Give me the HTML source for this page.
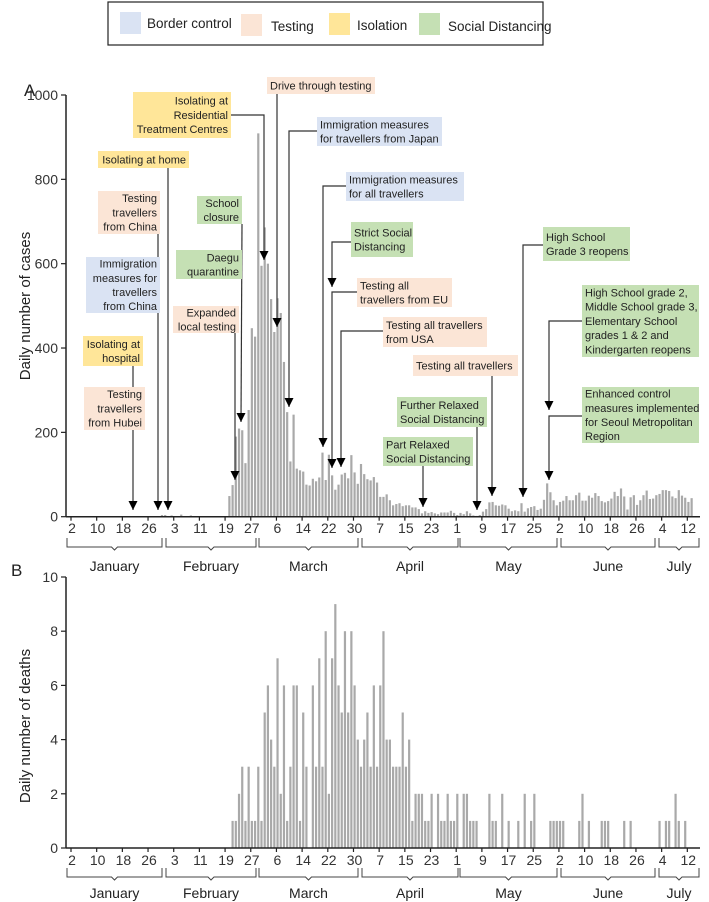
<!DOCTYPE html>
<html><head><meta charset="utf-8">
<style>
html,body{margin:0;padding:0;background:#fff;}
svg{display:block;font-family:"Liberation Sans",sans-serif;}
.ann{font-size:11px;fill:#222;}
.tick{font-size:14px;fill:#333;}
</style></head>
<body>
<svg id="chart" width="709" height="902" viewBox="0 0 709 902" xmlns="http://www.w3.org/2000/svg">
  <g>
    <rect x="108" y="2" width="435" height="43" fill="#fff" stroke="#222" stroke-width="1.2"/>
    <rect x="120" y="12" width="21" height="22" fill="#dae3f3"/>
    <text x="147" y="28" font-size="13.5" fill="#222">Border control</text>
    <rect x="241" y="14" width="21" height="22" fill="#fbe5d6"/>
    <text x="271" y="31" font-size="13.5" fill="#222">Testing</text>
    <rect x="329" y="13" width="21" height="22" fill="#ffe699"/>
    <text x="357" y="30" font-size="13.5" fill="#222">Isolation</text>
    <rect x="419" y="13" width="21" height="22" fill="#c5e0b4"/>
    <text x="448" y="31" font-size="13.5" fill="#222">Social Distancing</text>
  </g>
  <text x="24" y="96" font-size="17" fill="#222">A</text>
  <text x="11" y="576" font-size="17" fill="#222">B</text>
  <text transform="translate(30,306) rotate(-90)" text-anchor="middle" font-size="15" fill="#222">Daily number of cases</text>
  <text transform="translate(30,726) rotate(-90)" text-anchor="middle" font-size="15" fill="#222">Daily number of deaths</text>
  <g id="gA"></g>
  <g id="gB"></g>
  <g id="gAnn"></g>
</svg>
<script>
// ---- data ----
const xTickDays = [2,10,18,26,34,42,50,58,66,74,82,90,98,106,114,122,130,138,146,154,162,170,178,186,194];
const xTickLabels = ["2","10","18","26","3","11","19","27","6","14","22","30","7","15","23","1","9","17","25","2","10","18","26","4","12"];
const monthNames = ["January","February","March","April","May","June","July"];
const casesStartDay = 20;
const casesValues = [1,0,0,0,1,0,1,1,0,0,4,4,1,3,0,1,5,1,1,3,0,1,0,0,0,0,0,1,0,1,0,
  49,75,190,209,205,127,253,447,427,909,
  595,686,600,516,438,518,483,367,248,131,242,114,110,107,76,74,90,84,93,152,87,147,98,64,76,100,104,91,146,105,78,125,
  101,89,86,94,81,47,47,53,39,27,30,32,25,27,27,22,22,18,8,13,9,11,8,6,10,10,10,14,9,4,
  9,6,13,8,3,2,4,12,18,34,35,27,26,29,27,19,13,15,13,32,12,20,23,25,16,19,40,79,58,39,27,
  35,38,49,39,39,51,57,38,38,50,45,56,49,37,34,37,43,59,49,67,48,17,46,51,28,39,51,62,42,43,
  51,54,63,63,61,48,44,63,50,45,35,44];
const casesTicks = [0,200,400,600,800,1000];
const deathsStartDay = 52;
const deathsValues = [1,1,2,3,1,3,1,1,3,1,5,6,4,3,7,2,6,1,3,6,6,1,5,3,0,6,3,7,3,8,2,7,9,6,5,8,5,8,6,4,3,4,5,3,6,3,6,8,4,4,3,3,3,5,3,4,1,2,2,2,1,1,2,
  0,
  2,1,1,2,1,1,2,0, 2,2,1,1,1,0,0,0, 2,1,1,0,2,0,1,0, 0,1,0,2,0,1,2,0, 0,0,0,1,1,1,1,1,
  0,0,0,0,1,2,0,1, 0,0,0,1,1,1,0,0, 0,0,1,0,1,0,0,0, 0,0,0,0,0,1,0,1, 1,0,2,1,0,1,0];
const deathsTicks = [0,2,4,6,8,10];

// ---- layout / scales ----
const NS = "http://www.w3.org/2000/svg";
const xAxisLeft = 66, xAxisRight = 700;
function xDay(d){ return 71 + (d-2)*3.21; }
function yCases(v){ return 516.7 - v*0.4217; }
function yDeaths(v){ return 848 - v*27.1; }
function mk(tag, attrs, parent){ const e=document.createElementNS(NS,tag); for(const k in attrs) e.setAttribute(k,attrs[k]); parent.appendChild(e); return e; }

const brackets = [[67,162],[166,256],[259,358],[362,458],[460,557],[561,655],[659,699]];

function drawPanel(g, startDay, vals, yScale, ticks, base, top, tickY, brY, monY, prefix){
  vals.forEach((v,i)=>{
    if(v<=0) return;
    const d = startDay+i;
    const r = mk('rect',{x:xDay(d).toFixed(2), y:yScale(v).toFixed(2), width:2.2, height:(base-yScale(v)).toFixed(2), fill:'#a9a9a9'}, g);
    
    
  });
  const ya = mk('line',{x1:xAxisLeft,y1:top,x2:xAxisLeft,y2:base,stroke:'#222','stroke-width':1.5},g);
  
  
  const xa = mk('line',{x1:xAxisLeft,y1:base,x2:xAxisRight,y2:base,stroke:'#222','stroke-width':1.5},g);
  
  
  ticks.forEach(t=>{
    const y=yScale(t);
    mk('line',{x1:xAxisLeft-5,y1:y,x2:xAxisLeft,y2:y,stroke:'#222','stroke-width':1.2},g);
    const tx = mk('text',{x:xAxisLeft-8,y:y+5,'text-anchor':'end',class:'tick'},g);
    tx.textContent=t;
    
    
  });
  xTickDays.forEach((d,i)=>{
    const x=xDay(d);
    mk('line',{x1:x,y1:base,x2:x,y2:base+4,stroke:'#222','stroke-width':1.2},g);
    const tx = mk('text',{x:x+1,y:tickY,'text-anchor':'middle',class:'tick'},g);
    tx.textContent=xTickLabels[i];
    
    
  });
  brackets.forEach((b,i)=>{
    const m=(b[0]+b[1])/2;
    const p = mk('path',{d:`M${b[0]},${brY} L${b[0]},${brY+9} L${m-3},${brY+9} L${m},${brY+12} L${m+3},${brY+9} L${b[1]},${brY+9} L${b[1]},${brY}`,fill:'none',stroke:'#444','stroke-width':1},g);
    
    
    const tx = mk('text',{x:m,y:monY,'text-anchor':'middle','font-size':14,fill:'#222'},g);
    tx.textContent=monthNames[i];
    
    
  });
}
drawPanel(document.getElementById('gA'), casesStartDay, casesValues, yCases, casesTicks, 516.7, 95, 533, 538, 571, 'cases');
drawPanel(document.getElementById('gB'), deathsStartDay, deathsValues, yDeaths, deathsTicks, 848, 577, 865, 868, 898, 'deaths');

// ---- annotations ----
const COL = {border:'#dae3f3', testing:'#fbe5d6', isolation:'#ffe699', social:'#c5e0b4'};
const connectors = [
  [[231,115],[264,115],[264,260]],
  [[277,93],[277,327]],
  [[317,131],[289,131],[289,407]],
  [[346,186],[323,186],[323,447]],
  [[352,242],[332,242],[332,287]],
  [[357,292],[332,292],[332,468]],
  [[383,331],[341,331],[341,467]],
  [[492,376],[492,496]],
  [[477,427],[477,510]],
  [[423,466],[423,507]],
  [[543,245],[523,245],[523,497]],
  [[582,321],[549,321],[549,410]],
  [[582,416],[549,416],[549,480]],
  [[168,168],[168,510]],
  [[158,234],[158,510]],
  [[133,366],[133,510]],
  [[242,224],[241,422]],
  [[235,333],[235,480]]
];
const boxes = [
  [133,92,98,46,'isolation','end',["Isolating at","Residential","Treatment Centres"],'box-residential-treatment-centres'],
  [267,77,108,17,'testing','start',["Drive through testing"],'box-drive-through-testing'],
  [317,117,125,29,'border','start',["Immigration measures","for travellers from Japan"],'box-immigration-japan'],
  [346,172,118,29,'border','start',["Immigration measures","for all travellers"],'box-immigration-all'],
  [351,222,62,35,'social','start',["Strict Social","Distancing"],'box-strict-social-distancing'],
  [357,278,95,29,'testing','start',["Testing all","travellers from EU"],'box-testing-eu'],
  [383,317,104,30,'testing','start',["Testing all travellers","from USA"],'box-testing-usa'],
  [413,355,105,21,'testing','start',["Testing all travellers"],'box-testing-all'],
  [397,397,90,30,'social','start',["Further Relaxed","Social Distancing"],'box-further-relaxed'],
  [383,437,90,29,'social','start',["Part Relaxed","Social Distancing"],'box-part-relaxed'],
  [543,227,87,34,'social','start',["High School","Grade 3 reopens"],'box-high-school-grade3'],
  [582,285,117,72,'social','start',["High School grade 2,","Middle School grade 3,","Elementary School","grades 1 & 2 and","Kindergarten reopens"],'box-schools-reopen'],
  [582,387,117,56,'social','start',["Enhanced control","measures implemented","for Seoul Metropolitan","Region"],'box-enhanced-control'],
  [98,151,91,17,'isolation','end',["Isolating at home"],'box-isolating-home'],
  [98,191,62,43,'testing','end',["Testing","travellers","from China"],'box-testing-china'],
  [86,257,74,56,'border','end',["Immigration","measures for","travellers","from China"],'box-immigration-china'],
  [83,336,60,30,'isolation','end',["Isolating at","hospital"],'box-isolating-hospital'],
  [84,387,61,43,'testing','end',["Testing","travellers","from Hubei"],'box-testing-hubei'],
  [197,196,45,28,'social','end',["School","closure"],'box-school-closure'],
  [176,250,66,29,'social','end',["Daegu","quarantine"],'box-daegu-quarantine'],
  [173,306,66,27,'testing','end',["Expanded","local testing"],'box-expanded-testing']
];
const ga = document.getElementById('gAnn');
connectors.forEach(c=>{
  const pl = mk('polyline',{points:c.map(p=>p.join(',')).join(' '),fill:'none',stroke:'#333','stroke-width':1.2},ga);
  
  
  const e=c[c.length-1];
  const ar = mk('polygon',{points:`${e[0]-4.5},${e[1]-9} ${e[0]+4.5},${e[1]-9} ${e[0]},${e[1]}`,fill:'#000'},ga);
  
  
});
boxes.forEach(b=>{
  const [x,y,w,h,cat,al,lines,name]=b;
  const g = mk('g',{},ga);
  
  
  mk('rect',{x:x,y:y,width:w,height:h,fill:COL[cat]},g);
  const lh=14.2;
  const y0 = y + (h - lines.length*lh)/2 + 11;
  lines.forEach((l,i)=>{
    const t=mk('text',{x: al==='end'? x+w-3 : x+3, y:(y0+i*lh).toFixed(1),'text-anchor':al,class:'ann'},g);
    t.textContent=l;
  });
});
</script>
</body></html>
